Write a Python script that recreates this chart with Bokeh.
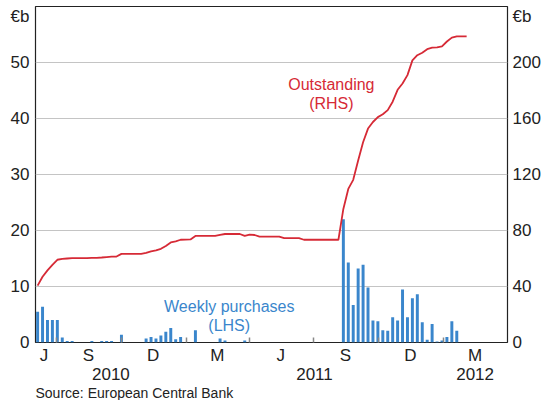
import pandas as pd
from bokeh.plotting import figure
from bokeh.models import (Range1d, LinearAxis, FixedTicker, Grid, Label, Title,
                          ColumnDataSource)
from bokeh.embed import file_html
from bokeh.resources import INLINE

# ---------------- data ----------------
first_week = "2010-06-04"
weekly_purchases = [
    5.5, 6.4, 4.0, 4.0, 4.0, 0.9, 0.25, 0.25, 0, 0,
    0, 0.25, 0, 0.25, 0.25, 0.25, 0, 1.4, 0, 0,
    0, 0, 0.7, 1.0, 0.7, 1.25, 1.9, 2.6, 0.6, 1.0,
    0, 0, 2.2, 0, 0, 0, 0, 0.7, 0.35, 0,
    0, 0, 0.35, 0, 0, 0, 0, 0, 0, 0,
    0, 0, 0, 0, 0, 0, 0, 0, 0, 0,
    0, 0, 22.0, 14.3, 6.7, 13.2, 13.9, 9.8, 3.95, 3.8,
    2.2, 2.1, 4.5, 3.95, 9.45, 4.5, 7.9, 8.6, 3.6, 0.5,
    3.3, 0.17, 0.35, 1.0, 3.8, 2.1,
]
outstanding = [
    40.6, 47.0, 51.5, 55.5, 59.1, 59.7, 60.0, 60.3, 60.3, 60.3,
    60.3, 60.5, 60.5, 60.7, 61.0, 61.3, 61.4, 63.3, 63.3, 63.3,
    63.3, 63.3, 64.0, 65.1, 65.8, 66.9, 69.0, 71.5, 72.3, 73.4,
    73.5, 73.6, 76.1, 76.1, 76.1, 76.1, 76.1, 76.8, 77.5, 77.5,
    77.5, 77.5, 76.1, 77.0, 76.8, 75.6, 75.6, 75.6, 75.6, 75.6,
    74.5, 74.5, 74.5, 74.5, 73.4, 73.4, 73.4, 73.4, 73.4, 73.4,
    73.4, 73.4, 95.4, 109.7, 116.2, 130.0, 143.0, 152.8, 157.5, 161.0,
    163.0, 166.0, 172.0, 180.5, 185.0, 191.0, 201.5, 205.2, 207.0, 209.5,
    210.6, 210.8, 211.5, 215.0, 217.8, 218.7, 218.7, 218.7,
]
month_labels = ["J", "S", "D", "M", "J", "S", "D", "M"]
month_label_dates = ["2010-06-13", "2010-08-15", "2010-11-15", "2011-02-14",
                     "2011-05-15", "2011-08-15", "2011-11-15", "2012-02-15"]
quarter_ticks = ["2010-07-01", "2010-10-01", "2011-01-01", "2011-04-01",
                 "2011-07-01", "2011-10-01", "2012-01-01"]
year_labels = ["2010", "2011", "2012"]
year_label_dates = ["2010-09-16", "2011-07-02", "2012-02-15"]
lhs_ticks = [0, 10, 20, 30, 40, 50]
rhs_ticks = [0, 40, 80, 120, 160, 200]
lhs_grid = [10, 20, 30, 40, 50]


def ms(d):
    return pd.Timestamp(d).value / 1e6


DAY = 86400000.0
FONT = "Liberation Sans"
RED = "#d62a36"
BLUE = "#3a86cc"
TXT = "#222222"

bar_x = [ms(d) for d in pd.date_range(first_week, periods=len(weekly_purchases), freq="7D")]
line_x = [ms(d) for d in pd.date_range(first_week, periods=len(outstanding), freq="7D")]
bars = ColumnDataSource(dict(x=bar_x, top=weekly_purchases))
line = ColumnDataSource(dict(x=line_x, y=outstanding))

p = figure(width=543, height=400,
           x_range=Range1d(ms("2010-06-01"), ms("2012-04-01")),
           y_range=Range1d(0, 60),
           x_axis_type=None, y_axis_type=None,
           output_backend="svg", toolbar_location=None,
           min_border_left=35, min_border_right=34,
           min_border_top=6, min_border_bottom=0)
p.extra_y_ranges = {"rhs": Range1d(0, 240)}
p.outline_line_color = "#222222"
p.outline_line_width = 1.2
p.background_fill_color = "white"
p.border_fill_color = "white"

p.add_layout(Grid(dimension=1, ticker=FixedTicker(ticks=lhs_grid),
                  grid_line_color="#c4c4c4", grid_line_width=1))

p.vbar(x="x", top="top", width=4.2 * DAY, source=bars,
       fill_color=BLUE, line_color=None)
p.line(x="x", y="y", source=line, y_range_name="rhs",
       line_color=RED, line_width=1.8)


def style_axis(ax, standoff):
    ax.axis_line_color = None
    ax.major_tick_line_color = None
    ax.major_tick_in = 0
    ax.major_tick_out = 0
    ax.minor_tick_line_color = None
    ax.major_label_standoff = standoff
    ax.major_label_text_font = FONT
    ax.major_label_text_font_size = "17px"
    ax.major_label_text_color = TXT


left = LinearAxis(ticker=FixedTicker(ticks=lhs_ticks + [58.3]),
                  major_label_overrides={58.3: "€b"})
style_axis(left, 6)
p.add_layout(left, "left")

right = LinearAxis(y_range_name="rhs", ticker=FixedTicker(ticks=rhs_ticks + [233.2]),
                   major_label_overrides={233.2: "€b"})
style_axis(right, 5)
p.add_layout(right, "right")

m_ticks = [ms(d) for d in month_label_dates]
months = LinearAxis(ticker=FixedTicker(ticks=m_ticks,
                                       minor_ticks=[ms(d) for d in quarter_ticks]),
                    major_label_overrides=dict(zip(m_ticks, month_labels)))
style_axis(months, 3)
months.minor_tick_line_color = "#888888"
months.minor_tick_line_width = 1.5
months.minor_tick_in = 5
months.minor_tick_out = 0
p.add_layout(months, "below")

y_ticks = [ms(d) for d in year_label_dates]
years = LinearAxis(ticker=FixedTicker(ticks=y_ticks),
                   major_label_overrides=dict(zip(y_ticks, year_labels)))
style_axis(years, 0)
p.add_layout(years, "below")

src = Title(text="Source: European Central Bank", align="left",
            text_font=FONT, text_font_size="14px", text_font_style="normal",
            text_color=TXT, standoff=0)
p.add_layout(src, "below")

for txt, xd, yv, rng, col in [
    ("Outstanding", "2011-07-26", 184, "rhs", RED),
    ("(RHS)", "2011-07-26", 171, "rhs", RED),
    ("Weekly purchases", "2011-03-03", 6.4, "default", BLUE),
    ("(LHS)", "2011-03-03", 3.1, "default", BLUE),
]:
    p.add_layout(Label(x=ms(xd), y=yv, y_range_name=rng, text=txt,
                       text_align="center", text_baseline="middle",
                       text_color=col, text_font=FONT, text_font_size="16px"))

open("out.html", "w").write(file_html(p, INLINE))
